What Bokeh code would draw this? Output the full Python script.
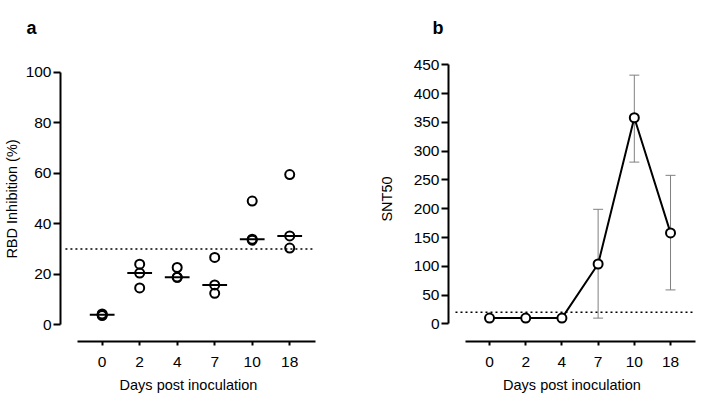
import numpy as np
from bokeh.plotting import figure
from bokeh.models import Range1d, FixedTicker, ColumnDataSource, Whisker, TeeHead
from bokeh.layouts import row
from bokeh.embed import file_html
from bokeh.resources import INLINE

# ---------------- data ----------------
days = ["0", "2", "4", "7", "10", "18"]
rbd_day0 = [4.3, 4.0, 3.7]
rbd_day2 = [24.0, 20.5, 14.6]
rbd_day4 = [22.7, 18.8, 18.8]
rbd_day7 = [26.7, 15.8, 12.5]
rbd_day10 = [49.0, 33.9, 33.5]
rbd_day18 = [59.5, 35.2, 30.4]
rbd_threshold = 30

snt50_mean = [10, 10, 10, 104, 358, 158]
snt50_upper = [10, 10, 10, 199, 432, 258]
snt50_lower = [10, 10, 10, 10, 281, 59]
snt50_threshold = 20

rbd_ticks = [0, 20, 40, 60, 80, 100]
snt_ticks = [0, 50, 100, 150, 200, 250, 300, 350, 400, 450]

FONT = "Liberation Sans"
idx = list(range(len(days)))
labels_map = {i: d for i, d in enumerate(days)}


def style(p, yticks, ybounds, title_offset):
    p.xaxis.ticker = FixedTicker(ticks=idx)
    p.xaxis.major_label_overrides = labels_map
    p.yaxis.ticker = FixedTicker(ticks=yticks)
    p.xaxis.bounds = (-0.66, 5.69)
    p.yaxis.bounds = ybounds
    for ax in (p.xaxis, p.yaxis):
        ax.axis_line_width = 2
        ax.axis_line_color = "black"
        ax.major_tick_line_width = 2
        ax.major_tick_line_color = "black"
        ax.minor_tick_line_color = None
        ax.major_label_text_font = FONT
        ax.major_label_text_font_size = "15.5px"
        ax.major_label_text_color = "black"
        ax.axis_label_text_font = FONT
        ax.axis_label_text_font_size = "14.5px"
        ax.axis_label_text_font_style = "normal"
        ax.axis_label_text_color = "black"
    p.xaxis.major_tick_out = 4
    p.xaxis.major_tick_in = 0
    p.xaxis.major_label_standoff = 11
    p.xaxis.axis_label_standoff = 7
    p.yaxis.major_tick_out = 7
    p.yaxis.major_tick_in = 0
    p.yaxis.major_label_standoff = 2
    p.xgrid.visible = False
    p.ygrid.visible = False
    p.outline_line_color = None
    p.background_fill_color = "white"
    p.border_fill_color = "white"
    p.title.text_font = FONT
    p.title.text_font_size = "18px"
    p.title.text_font_style = "bold"
    p.title.text_color = "black"
    p.title.align = "left"
    p.title.offset = title_offset
    p.title.vertical_align = "top"
    p.title.standoff = 34


# ---------------- panel a ----------------
p1 = figure(width=352, height=400, output_backend="svg", toolbar_location=None,
            title="a", x_axis_label="Days post inoculation", y_axis_label="RBD Inhibition (%)",
            x_range=Range1d(-1.111, 5.714), y_range=Range1d(-6.58, 106.2),
            min_border_left=58, min_border_right=36, min_border_top=55, min_border_bottom=59)
style(p1, rbd_ticks, (0, 100), -34)
p1.yaxis.axis_label_standoff = 3

groups = [rbd_day0, rbd_day2, rbd_day4, rbd_day7, rbd_day10, rbd_day18]
px, py = [], []
for i, g in enumerate(groups):
    px += [i] * len(g)
    py += g
medians = [float(np.median(g)) for g in groups]

p1.segment(x0=[-0.98], y0=[rbd_threshold], x1=[5.63], y1=[rbd_threshold],
           line_color="black", line_width=1.5, line_dash="2 3")
p1.segment(x0=[i - 0.33 for i in idx], y0=medians, x1=[i + 0.33 for i in idx], y1=medians,
           line_color="black", line_width=2)
p1.scatter(px, py, size=9, marker="circle", fill_color=None, line_color="black", line_width=2)

# ---------------- panel b ----------------
p2 = figure(width=352, height=400, output_backend="svg", toolbar_location=None,
            title="b", x_axis_label="Days post inoculation", y_axis_label="SNT50",
            x_range=Range1d(-1.133, 5.69), y_range=Range1d(-30.6, 464.4),
            min_border_left=96, min_border_right=9, min_border_top=55, min_border_bottom=59)
style(p2, snt_ticks, (0, 450), -16)
p2.yaxis.axis_label_standoff = 16

err_i = [i for i in idx if snt50_upper[i] != snt50_lower[i]]
err_src = ColumnDataSource(dict(x=err_i,
                                upper=[snt50_upper[i] for i in err_i],
                                lower=[snt50_lower[i] for i in err_i]))
wh = Whisker(base="x", upper="upper", lower="lower", source=err_src,
             line_color="#808080", line_width=1, level="underlay",
             upper_head=TeeHead(size=10, line_color="#808080", line_width=1),
             lower_head=TeeHead(size=10, line_color="#808080", line_width=1))
p2.add_layout(wh)

p2.segment(x0=[-0.94], y0=[snt50_threshold], x1=[5.69], y1=[snt50_threshold],
           line_color="black", line_width=1.5, line_dash="2 3")
p2.line(idx, snt50_mean, line_color="black", line_width=2)
p2.scatter(idx, snt50_mean, size=9, marker="circle", fill_color="white",
           line_color="black", line_width=2)

layout = row(p1, p2)
open("out.html", "w").write(file_html(layout, INLINE))
